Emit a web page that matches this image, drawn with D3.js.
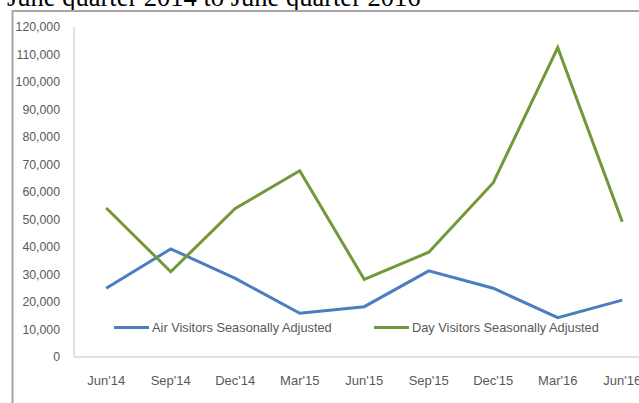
<!DOCTYPE html>
<html>
<head>
<meta charset="utf-8">
<script src="https://cdn.jsdelivr.net/npm/d3@7"></script>
<style>
  body { margin: 0; background: #fff; overflow: hidden; }
  svg { display: block; }
</style>
</head>
<body>
<svg id="chart" width="639" height="403"></svg>
<script>
// Data
const quarters = ["Jun'14", "Sep'14", "Dec'14", "Mar'15", "Jun'15", "Sep'15", "Dec'15", "Mar'16", "Jun'16"];
const airVisitors = [25000, 39300, 28600, 15900, 18300, 31300, 25000, 14300, 20700];
const dayVisitors = [54200, 31000, 54000, 67700, 28200, 38100, 63400, 112500, 49200];
const yTicks = [0, 10000, 20000, 30000, 40000, 50000, 60000, 70000, 80000, 90000, 100000, 110000, 120000];
const seriesNames = ['Air Visitors Seasonally Adjusted', 'Day Visitors Seasonally Adjusted'];
const seriesColors = ['#4a7ebf', '#73983b'];

const svg = d3.select('#chart');
const FONT = "'Liberation Sans', Arial, sans-serif";

// Title (cut off at the top in the reference)
svg.append('text')
  .attr('x', 7)
  .attr('y', 6)
  .attr('font-family', "'Liberation Serif', 'Times New Roman', serif")
  .attr('font-size', 26.5)
  .attr('fill', '#000')
  .text('June quarter 2014 to June quarter 2016');

// Chart frame
svg.append('path')
  .attr('d', 'M12.5,410 V11 H650')
  .attr('fill', 'none')
  .attr('stroke', '#a6a6a6')
  .attr('stroke-width', 2);

// Scales
let xScale = d3.scaleBand()
  .domain(quarters)
  .range([74, 74 + 64.5 * quarters.length]);

let yScale = d3.scaleLinear()
  .domain([0, 120000])
  .range([357, 27]);

// Y axis labels
svg.append('g')
  .selectAll('text')
  .data(yTicks)
  .enter()
  .append('text')
  .attr('x', 60)
  .attr('y', d => yScale(d))
  .attr('dy', '0.35em')
  .attr('text-anchor', 'end')
  .attr('font-family', FONT)
  .attr('font-size', 12.3)
  .attr('fill', '#595959')
  .text(d => d3.format(',')(d));

// Axis lines
svg.append('line')
  .attr('x1', 74).attr('x2', 74)
  .attr('y1', yScale(120000)).attr('y2', yScale(0))
  .attr('stroke', '#d9d9d9').attr('stroke-width', 1.5);

svg.append('line')
  .attr('x1', 74).attr('x2', 660)
  .attr('y1', yScale(0)).attr('y2', yScale(0))
  .attr('stroke', '#d9d9d9').attr('stroke-width', 1.5);

// X axis labels
svg.append('g')
  .selectAll('text')
  .data(quarters)
  .enter()
  .append('text')
  .attr('x', d => xScale(d) + xScale.bandwidth() / 2)
  .attr('y', 384.5)
  .attr('text-anchor', 'middle')
  .attr('font-family', FONT)
  .attr('font-size', 13)
  .attr('fill', '#595959')
  .text(d => d);

// Lines
const line = d3.line()
  .x((d, i) => xScale(quarters[i]) + xScale.bandwidth() / 2)
  .y(d => yScale(d));

[airVisitors, dayVisitors].forEach((series, i) => {
  svg.append('path')
    .datum(series)
    .attr('d', line)
    .attr('fill', 'none')
    .attr('stroke', seriesColors[i])
    .attr('stroke-width', 3)
    .attr('stroke-linejoin', 'miter');
});

// Legend
const legendX = [114, 374];
const legend = svg.append('g')
  .selectAll('g')
  .data(seriesNames)
  .enter()
  .append('g')
  .attr('transform', (d, i) => `translate(${legendX[i]}, 327.5)`);

legend.append('line')
  .attr('x1', 0).attr('x2', 35)
  .attr('stroke', (d, i) => seriesColors[i])
  .attr('stroke-width', 3);

legend.append('text')
  .attr('x', 38)
  .attr('dy', '0.35em')
  .attr('font-family', FONT)
  .attr('font-size', 12.8)
  .attr('fill', '#595959')
  .text(d => d);
</script>
</body>
</html>
